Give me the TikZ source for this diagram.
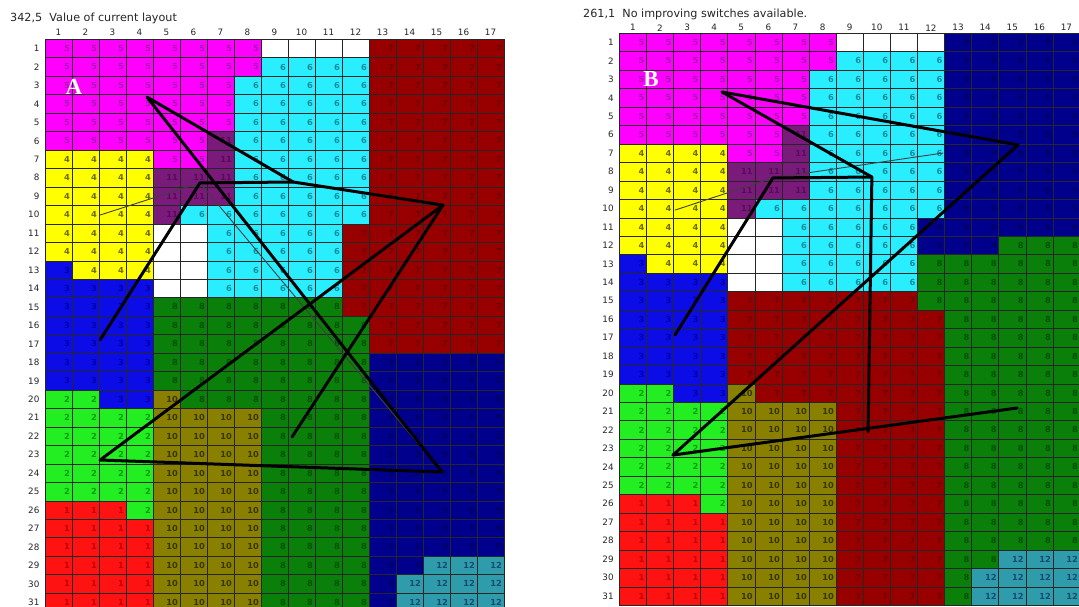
\documentclass[tikz,border=0pt]{standalone}
\usepackage{fontspec}
\setmainfont{DejaVu Sans}
\newfontfamily\letterfont{Liberation Serif}

% fill and ink colours of the departments (0 = empty)
\definecolor{lay0}{HTML}{FFFFFF}
\definecolor{lay1}{HTML}{FF1212}  \definecolor{ink1}{HTML}{C00000}
\definecolor{lay2}{HTML}{22EE22}  \definecolor{ink2}{HTML}{109A10}
\definecolor{lay3}{HTML}{0C0CE6}  \definecolor{ink3}{HTML}{0000A8}
\definecolor{lay4}{HTML}{FFFF00}  \definecolor{ink4}{HTML}{6A6A00}
\definecolor{lay5}{HTML}{FF00FF}  \definecolor{ink5}{HTML}{A818B0}
\definecolor{lay6}{HTML}{28EEFF}  \definecolor{ink6}{HTML}{178A98}
\definecolor{lay7}{HTML}{980000}  \definecolor{ink7}{HTML}{6E0000}
\definecolor{lay8}{HTML}{0A800A}  \definecolor{ink8}{HTML}{055205}
\definecolor{lay9}{HTML}{00008C}  \definecolor{ink9}{HTML}{000062}
\definecolor{lay10}{HTML}{8A8000} \definecolor{ink10}{HTML}{383600}
\definecolor{lay11}{HTML}{7A1A7A} \definecolor{ink11}{HTML}{5A0A5A}
\definecolor{lay12}{HTML}{2E9CAA} \definecolor{ink12}{HTML}{1A4A72}

\tikzset{
  cellnum/.style={anchor=east,inner sep=0pt,font=\bfseries\fontsize{8.3}{9}\selectfont},
  axnum/.style={inner sep=0pt,text=black!85,font=\fontsize{8.8}{10}\selectfont},
  gridline/.style={black!85,line width=0.6pt},
  flow/.style={black,line width=3pt,line cap=round,line join=round},
  thinflow/.style={black!75,line width=0.9pt,line cap=round},
  letter/.style={white,font=\letterfont\bfseries\fontsize{23}{23}\selectfont},
  heading/.style={anchor=west,inner sep=0pt,text=black!85,font=\fontsize{11.2}{12}\selectfont}
}

% #1 prefix, #2 height of the column numbers, #3 blocks c1/c2/r1/r2/dept
\newcommand\drawlayout[3]{%
  \foreach \ca/\cb/\ra/\rb/\k in {#3}{
    \fill[lay\k] (\ca-1,\ra-1) rectangle (\cb,\rb);
    \ifnum\k>0
      \foreach \c in {\ca,...,\cb} \foreach \r in {\ra,...,\rb}
        \node[cellnum,text=ink\k] (#1-\c-\r) at (\c-.07,\r-.5) {\k};
    \fi}
  \foreach \c in {0,...,17} \draw[gridline] (\c,0) -- (\c,31);
  \foreach \r in {0,...,31} \draw[gridline] (0,\r) -- (17,\r);
  \foreach \c in {1,...,17} \node[axnum] (#1c\c) at (\c-.5,-#2) {\c};
  \foreach \r in {1,...,31} \node[axnum,anchor=east] (#1r\r) at (-.2,\r-.5) {\r};
}

\begin{document}
\begin{tikzpicture}
  \clip (0,0) rectangle (1079pt,-607pt);
  \fill[white] (0,0) rectangle (1079pt,-607pt);

  % current layout
  \node[heading] (titleA) at (10pt,-18pt) {342,5\ \ Value of current layout};
  \begin{scope}[shift={(45pt,-39.3pt)},x=27pt,y=-18.46pt]
    \drawlayout{a}{.4}{1/8/1/2/5, 9/12/1/1/0, 13/17/1/17/7, 9/12/2/2/6,
      1/7/3/5/5, 8/12/3/10/6, 1/6/6/6/5, 7/7/6/7/11, 1/4/7/12/4, 5/6/7/7/5,
      5/7/8/9/11, 5/5/10/10/11, 6/7/10/10/6, 5/6/11/14/0, 7/11/11/14/6,
      12/12/11/15/7, 1/1/13/13/3, 2/4/13/13/4, 1/4/14/19/3, 5/11/15/15/8,
      5/12/16/19/8, 13/17/18/28/9, 1/2/20/20/2, 3/4/20/20/3, 5/5/20/20/10,
      6/12/20/20/8, 1/4/21/25/2, 5/8/21/31/10, 9/12/21/31/8, 1/3/26/26/1,
      4/4/26/26/2, 1/4/27/31/1, 13/14/29/29/9, 15/17/29/29/12,
      13/13/30/31/9, 14/17/30/31/12}
    \coordinate (a5) at (3.78,3.13);
    \coordinate (a6) at (9.19,7.73);
    \coordinate (a7) at (14.74,8.98);
    \coordinate (a2) at (2.04,22.79);
    \coordinate (a9) at (14.70,23.44);
    \coordinate (a8) at (9.15,21.54);
    \coordinate (a3) at (2.04,16.29);
    \coordinate (a11) at (5.74,7.78);
    \coordinate (a4) at (2.04,9.52);
    \draw[thinflow] (a4) -- (a11) -- (a9);
    \draw[flow] (a5) -- (a6) -- (a7) -- (a2) -- (a9) -- cycle;
    \draw[flow] (a7) -- (a8);
    \draw[flow] (a3) -- (a11) -- (a6);
    \node[letter] (labA) at (1.07,2.58) {A};
  \end{scope}

  % final layout
  \node[heading] (titleB) at (583pt,-14pt) {261,1\ \ No improving switches available.};
  \begin{scope}[shift={(619.3pt,-33.3pt)},x=27.1pt,y=-18.45pt]
    \drawlayout{b}{.3}{1/8/1/2/5, 9/12/1/1/0, 13/17/1/11/9, 9/12/2/2/6,
      1/7/3/5/5, 8/12/3/10/6, 1/6/6/6/5, 7/7/6/7/11, 1/4/7/12/4, 5/6/7/7/5,
      5/7/8/9/11, 5/5/10/10/11, 6/7/10/10/6, 5/6/11/14/0, 7/11/11/14/6,
      12/12/11/11/9, 12/14/12/12/9, 15/17/12/12/8, 1/1/13/13/3, 2/4/13/13/4,
      12/17/13/15/8, 1/4/14/19/3, 5/11/15/15/7, 5/12/16/19/7, 13/17/16/28/8,
      1/2/20/20/2, 3/4/20/20/3, 5/5/20/20/10, 6/12/20/20/7, 1/4/21/25/2,
      5/8/21/31/10, 9/12/21/31/7, 1/3/26/26/1, 4/4/26/26/2, 1/4/27/31/1,
      13/14/29/29/8, 15/17/29/29/12, 13/13/30/31/8, 14/17/30/31/12}
    \coordinate (b5) at (3.79,3.18);
    \coordinate (b9) at (14.71,6.05);
    \coordinate (b2) at (1.98,22.86);
    \coordinate (b8) at (14.68,20.31);
    \coordinate (b6) at (9.32,7.79);
    \coordinate (b7) at (9.18,21.61);
    \coordinate (b3) at (2.06,16.35);
    \coordinate (b11) at (5.67,7.84);
    \coordinate (b4) at (2.06,9.58);
    \coordinate (b6e) at (11.94,6.49);
    \draw[thinflow] (b4) -- (b11) -- (b6e);
    \draw[flow] (b5) -- (b9) -- (b2) -- (b8);
    \draw[flow] (b5) -- (b6) -- (b7);
    \draw[flow] (b3) -- (b11) -- (b6);
    \node[letter] (labB) at (1.17,2.5) {B};
  \end{scope}
\end{tikzpicture}
\end{document}
